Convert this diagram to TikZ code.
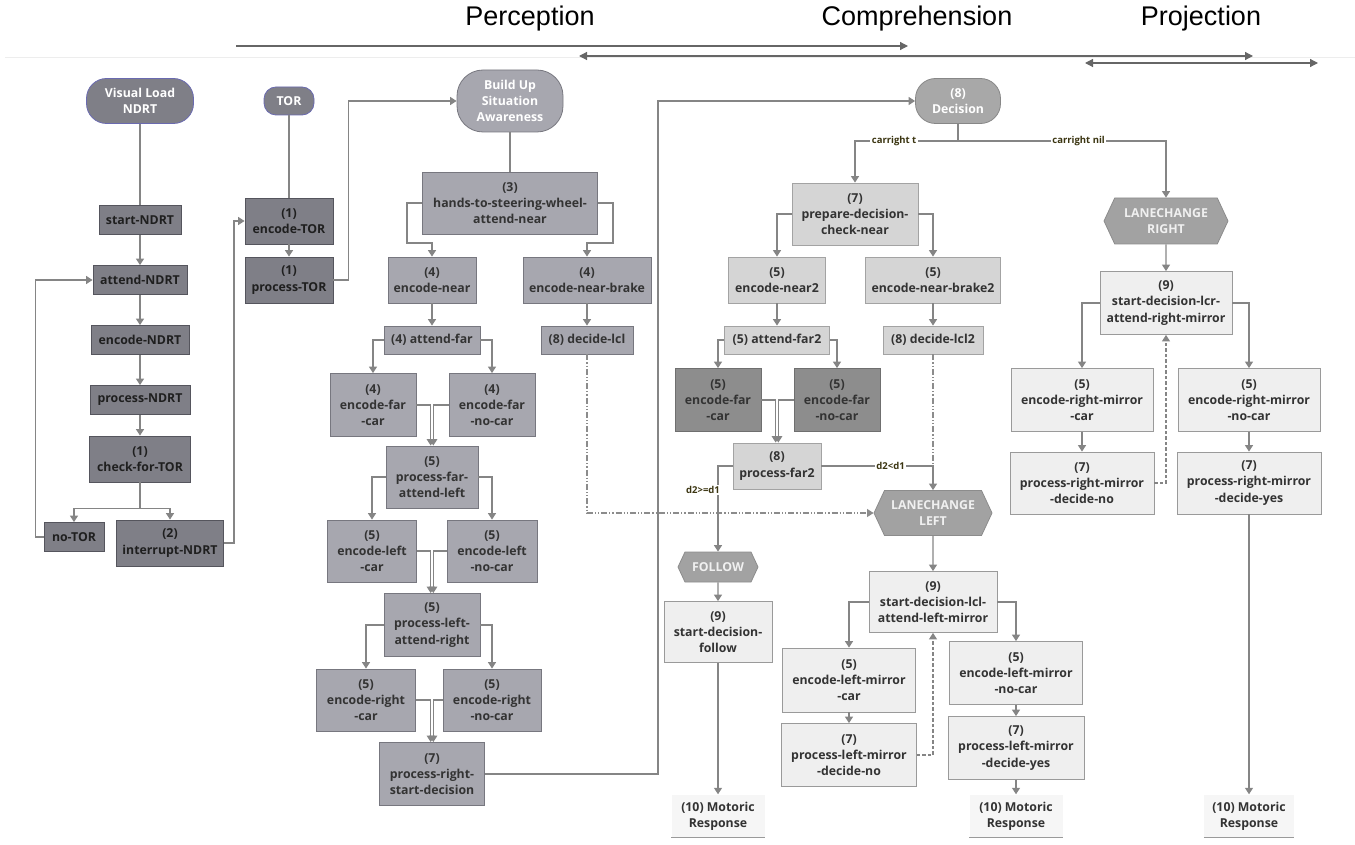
\documentclass[tikz,border=0pt]{standalone}
\usepackage{fontspec}
\setmainfont{Open Sans}
\newfontfamily\headfont{Liberation Sans}
\usetikzlibrary{arrows.meta,shapes.misc,shapes.symbols}

\definecolor{ndrtfill}{HTML}{7F7F87}
\definecolor{ndrtline}{HTML}{55555D}
\definecolor{pillline}{HTML}{6A6AB0}
\definecolor{safill}{HTML}{A7A7AF}
\definecolor{saline}{HTML}{77777F}
\definecolor{compfill}{HTML}{D5D5D5}
\definecolor{compline}{HTML}{A3A3A3}
\definecolor{darkfill}{HTML}{8D8D8D}
\definecolor{darkline}{HTML}{6F6F6F}
\definecolor{hexfill}{HTML}{A2A2A2}
\definecolor{hexline}{HTML}{8C8C8C}
\definecolor{projfill}{HTML}{EFEFEF}
\definecolor{projline}{HTML}{9A9A9A}
\definecolor{motorfill}{HTML}{F6F6F6}
\definecolor{conncol}{HTML}{858585}
\definecolor{lblcol}{HTML}{3B3511}
\definecolor{boxtext}{HTML}{333333}

\tikzset{
  every node/.style={font=\bfseries\fontsize{12.3}{16.3}\selectfont, align=center, inner sep=2pt},
  sz/.style 2 args={minimum width=#1pt, minimum height=#2pt},
  box/.style={draw, rectangle, line width=0.8pt, text=boxtext},
  ndrt/.style={box, fill=ndrtfill, draw=ndrtline, text=black!88},
  sabox/.style={box, fill=safill, draw=saline},
  comp/.style={box, fill=compfill, draw=compline},
  compdark/.style={box, fill=darkfill, draw=darkline},
  proj/.style={box, fill=projfill, draw=projline},
  pill/.style={draw, rectangle, rounded corners=#1, line width=0.8pt, text=white},
  hexa/.style={signal, signal to=west and east, signal pointer angle=130,
    fill=hexfill, draw=hexline, line width=0.8pt, text=white!94!black},
  motor/.style={fill=motorfill, text=boxtext},
  lbl/.style={font=\bfseries\fontsize{9.5}{10}\selectfont, text=lblcol, fill=white, inner sep=1.5pt},
  head/.style={font=\headfont\fontsize{27}{30}\selectfont, text=black},
  conn/.style={draw=conncol, line width=1.3pt},
  arr/.style={conn, -{Triangle[width=8pt,length=6.5pt]}},
  ddot/.style={conn, draw=black!45, line width=1.1pt, dash pattern=on 6pt off 2pt on 1.2pt off 2pt on 1.2pt off 2pt},
  dsh/.style={arr, line width=1.1pt, dash pattern=on 3.5pt off 2pt},
  harr/.style={draw=black!60, line width=1.2pt, -{Triangle[width=8pt,length=8pt]}},
  uline/.style={draw=projline, line width=1pt}
}

\begin{document}
\begin{tikzpicture}[x=1pt, y=-1pt]
\useasboundingbox (0,0) rectangle (1355,845);

% phases
\node[head] (perc) at (530,19) {Perception};
\node[head] (compr) at (917,19) {Comprehension};
\node[head] (projn) at (1201,19) {Projection};
\draw[black!7, line width=0.8pt] (5,57) -- (1355,57);
\coordinate (pa) at (236,46);  \coordinate (pb) at (908,46);
\coordinate (ca) at (579,56);  \coordinate (cb) at (1253,56);
\coordinate (ra) at (1085,63); \coordinate (rb) at (1318,63);
\draw[harr] (pa) -- (pb);
\draw[harr, {Triangle[width=8pt,length=8pt]}-{Triangle[width=8pt,length=8pt]}] (ca) -- (cb);
\draw[harr, {Triangle[width=8pt,length=8pt]}-{Triangle[width=8pt,length=8pt]}] (ra) -- (rb);

% NDRT column
\node[pill=20pt, fill=ndrtfill, draw=pillline, sz={107}{45}] (vl) at (140,101) {Visual Load\\NDRT};
\node[ndrt, sz={82}{29}] (sndrt) at (140,220) {start-NDRT};
\node[ndrt, sz={94}{29}] (andrt) at (140,280) {attend-NDRT};
\node[ndrt, sz={98}{29}] (endrt) at (140,340) {encode-NDRT};
\node[ndrt, sz={100}{29}] (pndrt) at (140,400) {process-NDRT};
\node[ndrt, sz={101}{46}] (chk) at (140,459) {(1)\\check-for-TOR};
\node[ndrt, sz={60}{29}] (notor) at (74,537) {no-TOR};
\node[ndrt, sz={107}{46}] (intr) at (170,543) {(2)\\interrupt-NDRT};

% TOR column
\node[pill=12pt, fill=ndrtfill, draw=pillline, sz={50}{28}] (tor) at (289,101) {TOR};
\node[ndrt, sz={88}{46}] (etor) at (289,221) {(1)\\encode-TOR};
\node[ndrt, sz={88}{46}] (ptor) at (289,280) {(1)\\process-TOR};

% situation awareness column
\node[pill=26pt, fill=safill, draw=saline, sz={106}{62}] (bu) at (510,101) {Build Up\\Situation\\Awareness};
\node[sabox, sz={175}{62}] (hands) at (510,203) {(3)\\hands-to-steering-wheel-\\attend-near};
\node[sabox, sz={88}{46}] (enear) at (432,280) {(4)\\encode-near};
\node[sabox, sz={128}{46}] (enbrake) at (587,280) {(4)\\encode-near-brake};
\node[sabox, sz={96}{28}] (afar) at (432,340) {(4) attend-far};
\node[sabox, sz={92}{28}] (dlcl) at (587,340) {(8) decide-lcl};
\node[sabox, sz={86}{63}] (efcar) at (373,405) {(4)\\encode-far\\-car};
\node[sabox, sz={86}{63}] (efnocar) at (492,405) {(4)\\encode-far\\-no-car};
\node[sabox, sz={92}{62}] (pfal) at (432,477) {(5)\\process-far-\\attend-left};
\node[sabox, sz={89}{62}] (elcar) at (372,551) {(5)\\encode-left\\-car};
\node[sabox, sz={90}{62}] (elnocar) at (492,551) {(5)\\encode-left\\-no-car};
\node[sabox, sz={96}{63}] (plar) at (432,625) {(5)\\process-left-\\attend-right};
\node[sabox, sz={99}{62}] (ercar) at (366,700) {(5)\\encode-right\\-car};
\node[sabox, sz={98}{62}] (ernocar) at (492,700) {(5)\\encode-right\\-no-car};
\node[sabox, sz={105}{63}] (prsd) at (432,774) {(7)\\process-right-\\start-decision};

% decision column
\node[pill=20pt, fill=black!34, draw=black!47, sz={85}{45}] (decision) at (958,101) {(8)\\Decision};
\node[comp, sz={126}{62}] (prep) at (855,214) {(7)\\prepare-decision-\\check-near};
\node[comp, sz={97}{46}] (en2) at (777,280) {(5)\\encode-near2};
\node[comp, sz={135}{46}] (enb2) at (933,280) {(5)\\encode-near-brake2};
\node[comp, sz={105}{28}] (af2) at (777,340) {(5) attend-far2};
\node[comp, sz={100}{28}] (dl2) at (933,340) {(8) decide-lcl2};
\node[compdark, sz={86}{63}] (efc2) at (718,400) {(5)\\encode-far\\-car};
\node[compdark, sz={86}{63}] (efn2) at (837,400) {(5)\\encode-far\\-no-car};
\node[comp, sz={88}{46}] (pf2) at (777,466) {(8)\\process-far2};
\node[hexa, sz={118}{45}] (llc) at (933,513) {LANECHANGE\\LEFT};
\node[hexa, sz={80}{30}] (follow) at (718,567) {FOLLOW};
\node[proj, sz={108}{61}] (sdf) at (718,632) {(9)\\start-decision-\\follow};
\node[motor, sz={93}{43}] (mr1) at (718,816) {(10) Motoric\\Response};
\node[proj, sz={128}{61}] (sdlcl) at (933,602) {(9)\\start-decision-lcl-\\attend-left-mirror};
\node[proj, sz={133}{64}] (elmc) at (849,680) {(5)\\encode-left-mirror\\-car};
\node[proj, sz={135}{63}] (pldn) at (849,755) {(7)\\process-left-mirror\\-decide-no};
\node[proj, sz={133}{63}] (elmn) at (1016,673) {(5)\\encode-left-mirror\\-no-car};
\node[proj, sz={136}{63}] (pldy) at (1016,748) {(7)\\process-left-mirror\\-decide-yes};
\node[motor, sz={93}{43}] (mr2) at (1016,816) {(10) Motoric\\Response};

% lane change right column
\node[hexa, sz={124}{46}] (lcr) at (1166,221) {LANECHANGE\\RIGHT};
\node[proj, sz={132}{63}] (sdlcr) at (1166,303) {(9)\\start-decision-lcr-\\attend-right-mirror};
\node[proj, sz={142}{63}] (ermc) at (1082,400) {(5)\\encode-right-mirror\\-car};
\node[proj, sz={142}{63}] (ermn) at (1249,400) {(5)\\encode-right-mirror\\-no-car};
\node[proj, sz={144}{62}] (prdn) at (1082,483) {(7)\\process-right-mirror\\-decide-no};
\node[proj, sz={144}{62}] (prdy) at (1249,483) {(7)\\process-right-mirror\\-decide-yes};
\node[motor, sz={90}{43}] (mr3) at (1249,816) {(10) Motoric\\Response};

\foreach \m in {mr1,mr2,mr3}
  \draw[uline] (\m.south west) -- (\m.south east);

% NDRT flow
\draw[conn] (vl) -- (sndrt);
\foreach \from/\to in {sndrt/andrt, andrt/endrt, endrt/pndrt, pndrt/chk}
  \draw[arr] (\from) -- (\to);
\draw[conn] (chk.south) -- ++(0,26) coordinate (chksplit);
\draw[arr] (chksplit) -| (notor.north);
\draw[arr] (chksplit) -| (intr.north);
\draw[arr] (notor.west) -- ++(-8,0) |- (andrt.west);
\draw[arr] (intr.east) -- ++(10,0) |- (etor.west);

% TOR flow
\draw[conn] (tor) -- (etor);
\draw[arr] (etor) -- (ptor);
\draw[arr] (ptor.east) -- ++(15,0) |- (bu.west);

% perception flow
\draw[conn] (bu) -- (hands);
\draw[arr] (hands.west) -- ++(-15,0) -- ++(0,40) -| (enear.north);
\draw[arr] (hands.east) -- ++(15,0) -- ++(0,40) -| (enbrake.north);
\foreach \from/\to in {enear/afar, enbrake/dlcl}
  \draw[arr] (\from) -- (\to);
\foreach \up/\l/\r/\down in {afar/efcar/efnocar/pfal, pfal/elcar/elnocar/plar, plar/ercar/ernocar/prsd}{
  \draw[arr] (\up.west) -| (\l.north);
  \draw[arr] (\up.east) -| (\r.north);
  \draw[arr] (\l.east) -| ([xshift=-1.3pt]\down.north);
  \draw[arr] (\r.west) -| ([xshift=1.3pt]\down.north);
}
\draw[arr] (prsd.east) -- ++(173,0) |- (decision.west);
\draw[ddot, -{Triangle[width=8pt,length=6.5pt]}] (dlcl.south) |- (llc.west);

% comprehension flow
\draw[conn] (decision.south) -- ++(0,17) coordinate (dsplit);
\draw[arr] (dsplit) -| node[lbl, pos=0.31] {carright t} (prep.north);
\draw[arr] (dsplit) -| node[lbl, pos=0.29] {carright nil} (lcr.north);
\draw[arr] (prep.west) -| (en2.north);
\draw[arr] (prep.east) -| (enb2.north);
\foreach \from/\to in {en2/af2, enb2/dl2}
  \draw[arr] (\from) -- (\to);
\draw[arr] (af2.west) -| (efc2.north);
\draw[arr] (af2.east) -| (efn2.north);
\draw[arr] (efc2.east) -| ([xshift=-1.3pt]pf2.north);
\draw[arr] (efn2.west) -| ([xshift=1.3pt]pf2.north);
\draw[ddot] (dl2.south) -- (dl2.south |- pf2.east);
\draw[arr] (pf2.east) -| node[lbl, pos=0.31] {d2<d1} (llc.north);
\draw[arr] (pf2.west) -| node[lbl, pos=0.64, anchor=east, xshift=4pt] {d2>=d1} (follow.north);
\foreach \from/\to in {follow/sdf, sdf/mr1, llc/sdlcl, elmc/pldn, elmn/pldy, pldy/mr2}
  \draw[arr] (\from) -- (\to);
\draw[arr] (sdlcl.west) -| (elmc.north);
\draw[arr] (sdlcl.east) -| (elmn.north);
\draw[dsh] (pldn.east) -| (sdlcl.south);

% projection flow
\foreach \from/\to in {lcr/sdlcr, ermc/prdn, ermn/prdy, prdy/mr3}
  \draw[arr] (\from) -- (\to);
\draw[arr] (sdlcr.west) -| (ermc.north);
\draw[arr] (sdlcr.east) -| (ermn.north);
\draw[dsh] (prdn.east) -| (sdlcr.south);

\end{tikzpicture}
\end{document}
